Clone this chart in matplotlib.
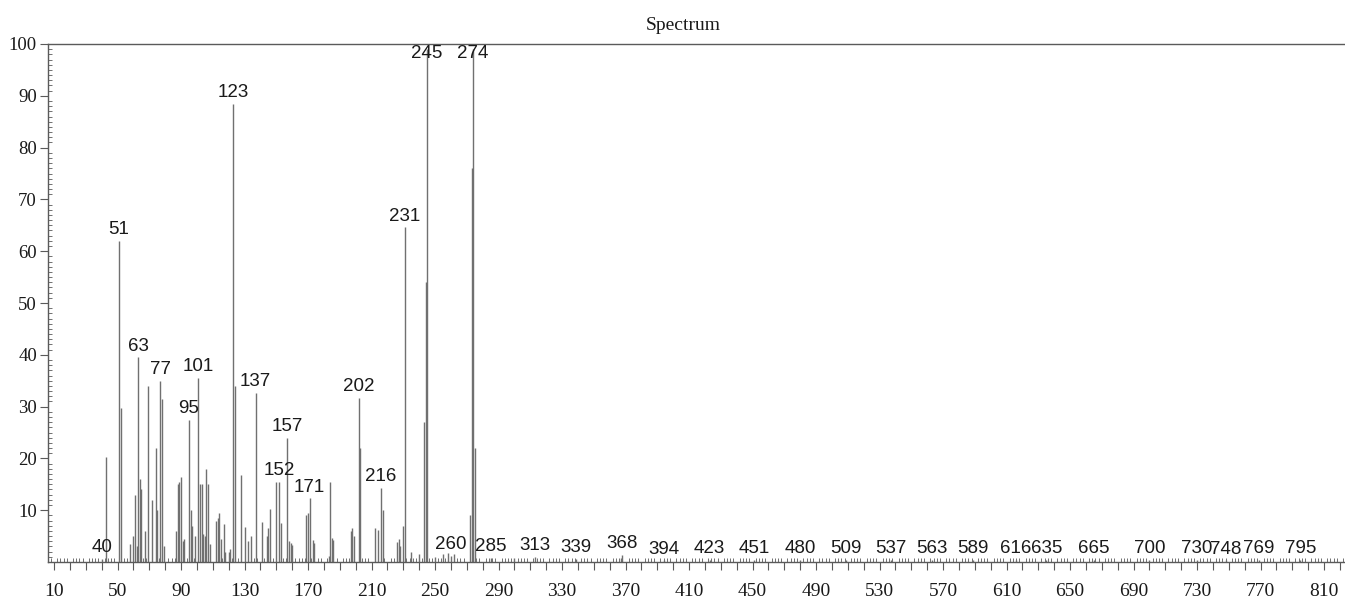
import matplotlib.pyplot as plt
from matplotlib.ticker import MultipleLocator, FixedLocator, FuncFormatter

# peak list: m/z and relative intensity (%)
mz = [40, 43, 51, 52, 58, 60, 61, 62, 63, 64, 65, 67, 69, 72, 74, 75, 77, 78, 79,
      87, 88, 89, 90, 91, 92, 95, 96, 97, 99, 101, 102, 103, 104, 105, 106, 107, 108,
      112, 113, 114, 115, 117, 118, 120, 121, 123, 124, 128, 130, 132, 134, 137,
      141, 144, 145, 146, 150, 152, 153, 157, 158, 159, 160, 169, 170, 171, 173, 174,
      183, 184, 185, 186, 197, 198, 199, 202, 203, 212, 214, 216, 217,
      226, 227, 228, 230, 231, 235, 240, 243, 244, 245, 250, 255, 258, 260, 262,
      272, 273, 274, 275, 285, 300, 313, 339, 367, 368, 394, 423, 451, 480, 509,
      537, 563, 589, 616, 635, 665, 700, 730, 748, 769, 795]
intensity = [0.6, 20.3, 62, 29.7, 3.5, 5, 13, 3, 39.5, 16, 14, 6, 34, 12, 22, 10, 35, 31.5, 3,
             6, 15, 15.5, 16.5, 4, 4.5, 27.5, 10, 7, 5, 35.5, 15, 15, 5.5, 5, 18, 15, 3.5,
             8, 8.4, 9.4, 4.5, 7.4, 2, 2, 2.5, 88.4, 34, 16.8, 6.8, 4, 5, 32.6,
             7.8, 5, 6.5, 10.3, 15.5, 15.5, 7.5, 24, 4, 3.6, 3.3, 9, 9.4, 12.3, 4.3, 3.6,
             1.2, 15.5, 4.6, 4.3, 5.9, 6.5, 5, 31.7, 22, 6.5, 6.2, 14.3, 10,
             3.8, 4.5, 3.1, 7, 64.6, 2, 1.5, 27, 54, 99, 1, 1.5, 1.8, 1.2, 1.5,
             9, 76, 99, 22, 0.8, 0.8, 1.0, 0.6, 0.8, 1.4, 0.3, 0.4, 0.4, 0.4, 0.4,
             0.4, 0.4, 0.4, 0.4, 0.4, 0.4, 0.4, 0.4, 0.3, 0.4, 0.4]

# peaks that carry an m/z label
labelled = [40, 51, 63, 77, 95, 101, 123, 137, 152, 157, 171, 202, 216, 231, 245,
            260, 274, 285, 313, 339, 368, 394, 423, 451, 480, 509, 537, 563, 589,
            616, 635, 665, 700, 730, 748, 769, 795]

yticks = [10, 20, 30, 40, 50, 60, 70, 80, 90, 100]

serif = 'Liberation Serif'
sans = 'Liberation Sans'
grey = '#5a5a5a'

fig = plt.figure(figsize=(13.45, 6.03), dpi=100)
ax = fig.add_axes([48 / 1345, 41 / 603, 1 - 48 / 1345, 518 / 603])

ax.vlines(mz, 0, intensity, colors='#707070', lw=1.0)

peak = dict(zip(mz, intensity))
for m in labelled:
    ax.annotate(str(m), (m, min(peak[m], 96)), xytext=(0, 2),
                textcoords='offset points', ha='center', va='bottom',
                fontsize=13.5, family=sans, color='#1a1a1a')

ax.set_xlim(6.2, 823.2)
ax.set_ylim(0, 100)

ax.xaxis.set_major_locator(MultipleLocator(10))
ax.xaxis.set_minor_locator(MultipleLocator(2))
ax.xaxis.set_major_formatter(FuncFormatter(
    lambda v, p: '%d' % v if round(v - 10) % 40 == 0 else ''))
ax.yaxis.set_major_locator(FixedLocator(yticks))
ax.yaxis.set_minor_locator(MultipleLocator(1))

ax.tick_params(axis='x', which='major', direction='out', length=6, width=0.8,
               color=grey, pad=9, labelsize=14)
ax.tick_params(axis='x', which='minor', direction='in', length=3, width=0.6, color=grey)
ax.tick_params(axis='y', which='major', direction='out', length=6, width=0.8,
               color=grey, pad=2, labelsize=13.5)
ax.tick_params(axis='y', which='minor', direction='in', length=3, width=0.6, color=grey)
for lab in ax.get_xticklabels() + ax.get_yticklabels():
    lab.set_family(serif)
    lab.set_color('#1a1a1a')

for side in ['left', 'bottom', 'top']:
    ax.spines[side].set_color(grey)
    ax.spines[side].set_linewidth(1.0)
ax.spines['right'].set_visible(False)

ax.set_title('Spectrum', family=serif, fontsize=14, x=0.49, pad=10, color='#1a1a1a')

fig.savefig('out.png', dpi=100, facecolor='white')
